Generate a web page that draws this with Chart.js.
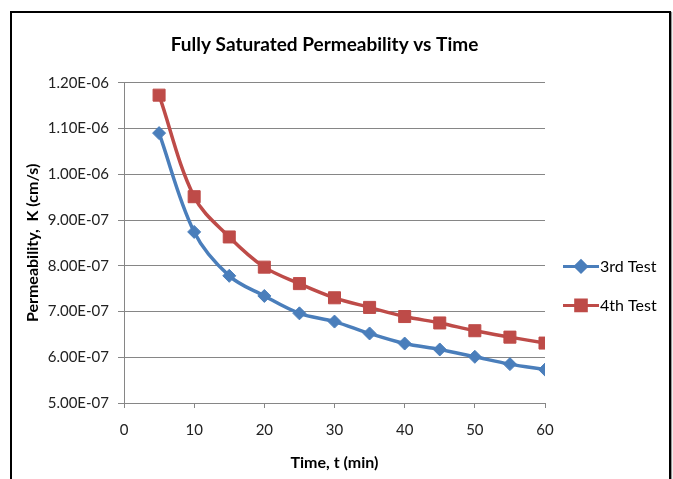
<!DOCTYPE html>
<html>
<head>
<meta charset="utf-8">
<script src="https://cdn.jsdelivr.net/npm/chart.js@4.4.1/dist/chart.umd.min.js"></script>
<style>
  html, body { margin: 0; padding: 0; background: #ffffff; }
  #wrap { position: relative; width: 673px; height: 479px; overflow: hidden; background: #fff; }
  #frame { position: absolute; left: 10px; top: 11px; width: 657px; height: 520px; border: 2px solid #000; box-shadow: 1px 1px 1px #999; }
  #c { position: absolute; left: 0; top: 0; }
</style>
</head>
<body>
<div id="wrap">
  <div id="frame"></div>
  <canvas id="c" width="673" height="479"></canvas>
</div>
<script>
// ---- data ----
const times = [5, 10, 15, 20, 25, 30, 35, 40, 45, 50, 55, 60];
const test3 = [1.09e-6, 8.74e-7, 7.78e-7, 7.34e-7, 6.96e-7, 6.78e-7, 6.52e-7, 6.30e-7, 6.17e-7, 6.01e-7, 5.85e-7, 5.73e-7];
const test4 = [1.173e-6, 9.51e-7, 8.63e-7, 7.97e-7, 7.61e-7, 7.30e-7, 7.09e-7, 6.89e-7, 6.75e-7, 6.58e-7, 6.44e-7, 6.31e-7];
const seriesNames = ['3rd Test', '4th Test'];
const xTickValues = [0, 10, 20, 30, 40, 50, 60];
const yTickValues = [5e-7, 6e-7, 7e-7, 8e-7, 9e-7, 1.0e-6, 1.1e-6, 1.2e-6];
const chartTitle = 'Fully Saturated Permeability vs Time';
const xTitle = 'Time, t (min)';
const yTitle = 'Permeability,  K (cm/s)';

const BLUE = '#4A7EBB';
const RED = '#BE4B48';
const FONT = 'Lato, "Open Sans", "Liberation Sans", sans-serif';

function fmtE(v) {
  const parts = Number(v).toExponential(2).split('e');
  const exp = parseInt(parts[1], 10);
  const sign = exp < 0 ? '-' : '+';
  return parts[0] + 'E' + sign + String(Math.abs(exp)).padStart(2, '0');
}

const legendPlugin = {
  id: 'sideLegend',
  afterDraw(chart) {
    const ctx = chart.ctx;
    const area = chart.chartArea;
    const x0 = area.right + 18;
    const x1 = area.right + 54;
    const yc = (area.top + area.bottom) / 2 + 43;
    const gap = 39;
    chart.data.datasets.forEach((ds, i) => {
      const y = yc - gap / 2 + i * gap;
      ctx.save();
      ctx.strokeStyle = ds.borderColor;
      ctx.lineWidth = 3;
      ctx.beginPath();
      ctx.moveTo(x0, y);
      ctx.lineTo(x1, y);
      ctx.stroke();
      Chart.helpers.drawPoint(ctx, {
        pointStyle: ds.pointStyle,
        radius: ds.pointStyle === 'rect' ? 7.5 : 5.5,
        rotation: 0,
        borderWidth: 1
      }, (x0 + x1) / 2, y);
      ctx.fillStyle = ds.backgroundColor;
      ctx.fill();
      ctx.fillStyle = '#000';
      ctx.font = '16px ' + FONT;
      ctx.textAlign = 'left';
      ctx.textBaseline = 'middle';
      ctx.fillText(ds.label, x1 + 1, y);
      ctx.restore();
    });
  }
};

new Chart(document.getElementById('c'), {
  type: 'line',
  data: {
    datasets: [
      {
        label: seriesNames[0],
        data: times.map((t, i) => ({ x: t, y: test3[i] })),
        borderColor: BLUE,
        backgroundColor: BLUE,
        borderWidth: 3.5,
        pointStyle: 'rectRot',
        pointRadius: 6.5,
        pointBorderWidth: 1,
        pointBorderColor: BLUE,
        pointBackgroundColor: BLUE,
        tension: 0.35
      },
      {
        label: seriesNames[1],
        data: times.map((t, i) => ({ x: t, y: test4[i] })),
        borderColor: RED,
        backgroundColor: RED,
        borderWidth: 3.5,
        pointStyle: 'rect',
        pointRadius: 8.5,
        pointBorderWidth: 1,
        pointBorderColor: RED,
        pointBackgroundColor: RED,
        tension: 0.35
      }
    ]
  },
  options: {
    responsive: false,
    animation: false,
    layout: { padding: { left: 0, right: 24, top: 0, bottom: 0 } },
    plugins: {
      legend: { display: false },
      tooltip: { enabled: false },
      title: {
        display: true,
        text: chartTitle,
        color: '#000',
        font: { family: FONT, size: 19, weight: 'bold' },
        padding: { top: 33, bottom: 27 }
      }
    },
    scales: {
      x: {
        type: 'linear',
        min: 0,
        max: 60,
        afterBuildTicks(scale) { scale.ticks = xTickValues.map(v => ({ value: v })); },
        afterFit(scale) { scale.height = 76; scale.paddingRight = 128; },
        ticks: {
          color: '#222',
          font: { family: FONT, size: 15 },
          padding: 13,
          maxRotation: 0
        },
        grid: { drawOnChartArea: false, drawTicks: true, tickLength: 5, color: '#868686' },
        border: { display: true, color: '#868686', width: 1 },
        title: {
          display: true,
          text: xTitle,
          color: '#000',
          font: { family: FONT, size: 16, weight: 'bold' },
          padding: { top: 0, bottom: 7 }
        }
      },
      y: {
        type: 'linear',
        min: 5e-7,
        max: 1.2e-6,
        afterBuildTicks(scale) { scale.ticks = yTickValues.map(v => ({ value: v })); },
        afterFit(scale) { scale.width = 124; },
        ticks: {
          color: '#222',
          font: { family: FONT, size: 15 },
          padding: 9,
          callback: (v) => fmtE(v)
        },
        grid: { drawOnChartArea: true, drawTicks: true, tickLength: 6, color: '#868686' },
        border: { display: true, color: '#868686', width: 1 },
        title: {
          display: true,
          text: yTitle,
          color: '#000',
          font: { family: FONT, size: 16, weight: 'bold' },
          padding: { top: 23, bottom: 0 }
        }
      }
    }
  },
  plugins: [legendPlugin]
});
</script>
</body>
</html>
